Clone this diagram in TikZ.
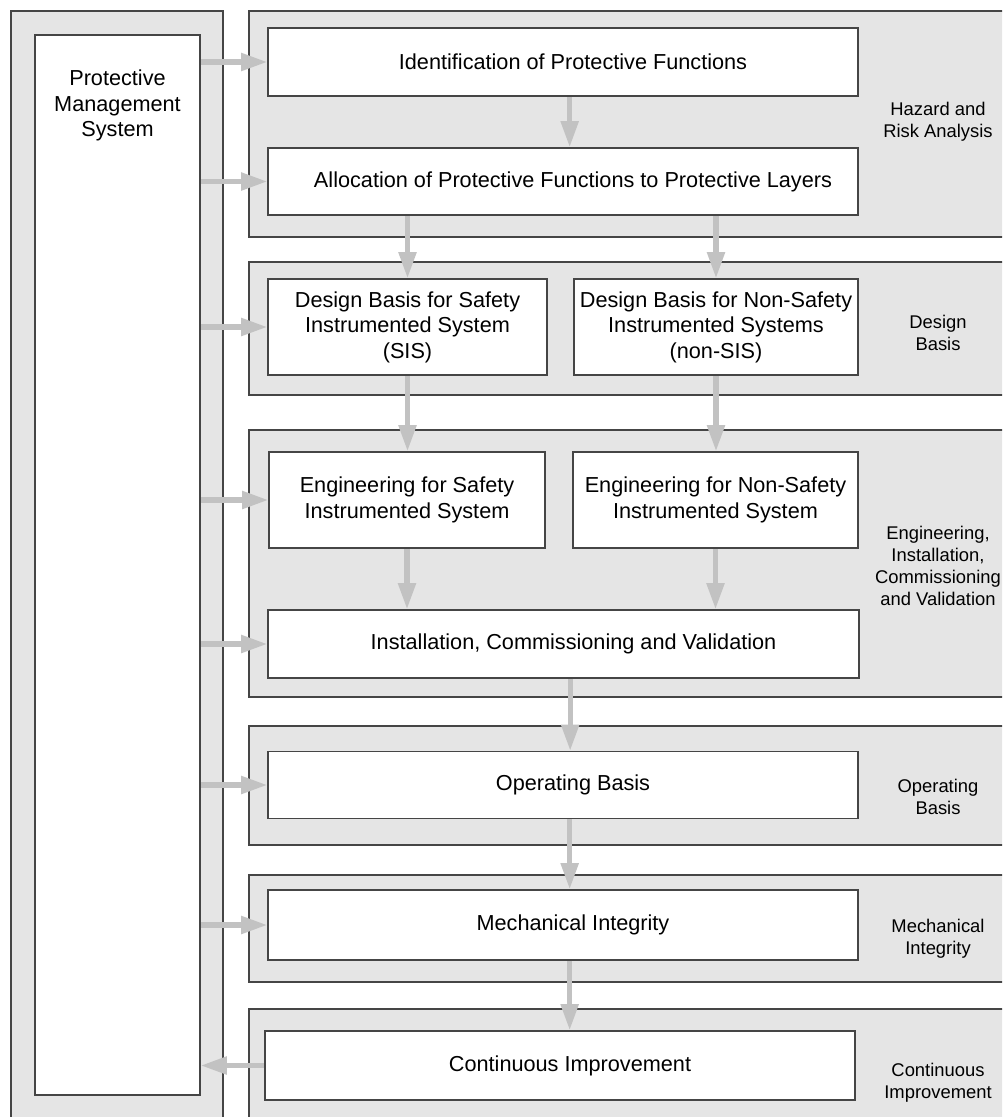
\documentclass[tikz,border=0pt]{standalone}
\usepackage{fontspec}
\setmainfont{Liberation Sans}
\usepackage{tikz}
\usetikzlibrary{positioning}
\usetikzlibrary{arrows.meta}
\definecolor{panelgray}{gray}{0.9}
\definecolor{linegray}{gray}{0.27}
\definecolor{arrowgray}{gray}{0.76}
\tikzset{>={Triangle[width=0.51cm,length=0.78cm]}}

\begin{document}
\begin{tikzpicture}[x=0.03cm, y=-0.03cm, panel/.style={draw=linegray, fill=panelgray, line width=1.3pt}, stage/.style={rectangle, draw=linegray, fill=white, line width=1.3pt, align=center, inner sep=0pt, font=\fontsize{18.5}{21.8}\selectfont}, widestage/.style={stage, minimum width=17.7cm, minimum height=2.04cm, execute at begin node={\hspace*{0.6cm}}}, halfstage/.style={stage, minimum height=2.88cm}, sidenote/.style={draw=none, fill=none, align=center, font=\fontsize{15.7}{18.8}\selectfont}, flow/.style={->, draw=arrowgray, fill=arrowgray, line width=4.3pt}]

    \clip (0,0) rectangle (1002,1117);

    %Panels
    \draw[panel] (11,11) rectangle (223,1140);
    \draw[panel] (249,11) rectangle (1020,237);
    \draw[panel] (249,262) rectangle (1020,395);
    \draw[panel] (249,430) rectangle (1020,697);
    \draw[panel] (249,726) rectangle (1020,845);
    \draw[panel] (249,875) rectangle (1020,982);
    \draw[panel] (249,1009) rectangle (1020,1140);

    %Nodes
    \node[stage, minimum width=4.95cm, minimum height=31.8cm, label={[anchor=north, yshift=-0.95cm, align=center, font=\fontsize{18.5}{21.8}\selectfont]north:Protective\\Management\\System}](pms) at (117.5,565) {};
    \node[widestage](ident) at (563,62) {Identification of Protective Functions};
    \node[widestage, minimum height=2.01cm](alloc) at (563,181.5) {Allocation of Protective Functions to Protective Layers};
    \node[halfstage, minimum width=8.37cm](sis) at (407.5,327) {Design Basis for Safety\\Instrumented System\\(SIS)};
    \node[halfstage, minimum width=8.52cm](nonsis) at (716,327) {Design Basis for Non-Safety\\Instrumented Systems\\(non-SIS)};
    \node[halfstage, minimum width=8.28cm](engsis) at (407,500) {Engineering for Safety\\Instrumented System};
    \node[halfstage, minimum width=8.55cm](engnonsis) at (715.5,500) {Engineering for Non-Safety\\Instrumented System};
    \node[widestage, minimum width=17.73cm](install) at (563.5,644) {Installation, Commissioning and Validation};
    \node[widestage, minimum height=2.01cm](operating) at (563,785) {Operating Basis};
    \node[widestage, minimum height=2.1cm](mech) at (563,925) {Mechanical Integrity};
    \node[widestage, minimum height=2.07cm](cont) at (560,1065.5) {Continuous Improvement};

    \node[sidenote](hazardtext) at (938,122) {Hazard and\\Risk Analysis};
    \node[sidenote](designtext) at (938,333) {Design\\Basis};
    \node[sidenote](engtext) at (938,566) {Engineering,\\Installation,\\Commissioning\\and Validation};
    \node[sidenote](operatingtext) at (938,797) {Operating\\Basis};
    \node[sidenote](mechtext) at (938,939) {Mechanical\\Integrity};
    \node[sidenote](conttext) at (938,1083) {Continuous\\Improvement};

    %Lines
    \draw[flow] (pms.east |- ident) -- (ident.west);
    \draw[flow] (pms.east |- alloc) -- (alloc.west);
    \draw[flow] (pms.east |- sis) -- (sis.west);
    \draw[flow] (pms.east |- engsis) -- (engsis.west);
    \draw[flow] (pms.east |- install) -- (install.west);
    \draw[flow] (pms.east |- operating) -- (operating.west);
    \draw[flow] (pms.east |- mech) -- (mech.west);
    \draw[flow] (cont.west) -- (pms.east |- cont);

    \draw[flow] ([xshift=0.2cm]ident.south) -- ([xshift=0.2cm]ident.south |- alloc.north);
    \draw[flow] (alloc.south -| sis) -- (sis.north);
    \draw[flow] (alloc.south -| nonsis) -- (nonsis.north);
    \draw[flow] (sis.south) -- (sis.south |- engsis.north);
    \draw[flow] (nonsis.south) -- (nonsis.south |- engnonsis.north);
    \draw[flow] (engsis.south) -- (engsis.south |- install.north);
    \draw[flow] (engnonsis.south) -- (engnonsis.south |- install.north);
    \draw[flow] ([xshift=0.2cm]install.south) -- ([xshift=0.2cm]install.south |- operating.north);
    \draw[flow] ([xshift=0.2cm]operating.south) -- ([xshift=0.2cm]operating.south |- mech.north);
    \draw[flow] ([xshift=0.2cm]mech.south) -- ([xshift=0.2cm]mech.south |- cont.north);

\end{tikzpicture}
\end{document}
